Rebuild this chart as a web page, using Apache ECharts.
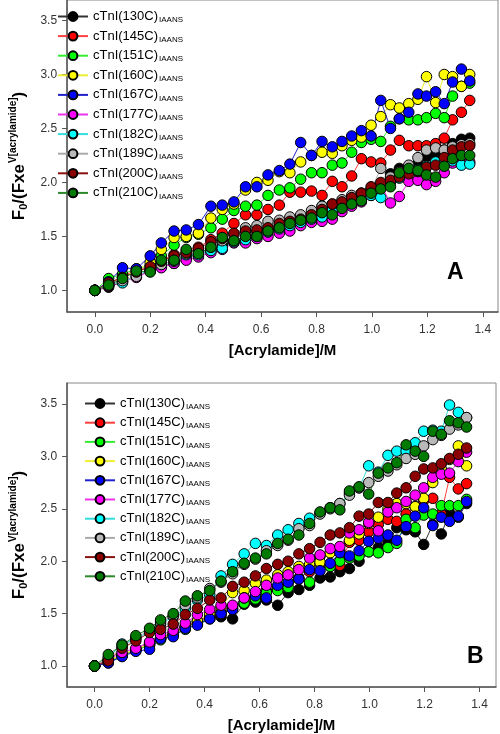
<!DOCTYPE html>
<html>
<head>
<meta charset="utf-8">
<script src="https://cdn.jsdelivr.net/npm/echarts@6/dist/echarts.min.js"></script>
<style>
  html, body { margin: 0; padding: 0; background: #fff; }
  #chart { width: 500px; height: 734px; }
</style>
</head>
<body>
<div id="chart"></div>
<script>
// ---- data ----
var xVals = [0, 0.05, 0.10, 0.15, 0.20, 0.24, 0.286, 0.33, 0.374, 0.419, 0.46, 0.502, 0.544, 0.585, 0.625, 0.666, 0.704, 0.743, 0.782, 0.82, 0.857, 0.892, 0.927, 0.962, 0.997, 1.032, 1.067, 1.099, 1.133, 1.166, 1.197, 1.23, 1.261, 1.291, 1.323, 1.353];
var seriesNames = ['cTnI(130C)', 'cTnI(145C)', 'cTnI(151C)', 'cTnI(160C)', 'cTnI(167C)', 'cTnI(177C)', 'cTnI(182C)', 'cTnI(189C)', 'cTnI(200C)', 'cTnI(210C)'];
var subscriptText = 'IAANS';
var xTicks = [0, 0.2, 0.4, 0.6, 0.8, 1.0, 1.2, 1.4];
var yTicks = [1.0, 1.5, 2.0, 2.5, 3.0, 3.5];

// Panel A
var aC130 = [1.00,1.03,1.08,1.13,1.18,1.22,1.25,1.30,1.34,1.37,1.42,1.46,1.50,1.54,1.57,1.61,1.63,1.66,1.70,1.78,1.75,1.82,1.86,1.90,1.94,1.97,2.08,2.13,2.15,2.18,2.24,2.27,2.30,2.36,2.40,2.41];
var aC145 = [1.00,1.05,1.14,1.18,1.22,1.28,1.33,1.37,1.40,1.47,1.53,1.62,1.70,1.70,1.75,1.79,1.91,1.91,1.92,1.88,2.01,1.96,2.06,2.22,2.19,2.18,2.30,2.39,2.34,2.34,2.34,2.36,2.41,2.58,2.65,2.76];
var aC151 = [1.00,1.11,1.15,1.20,1.23,1.32,1.42,1.49,1.52,1.58,1.66,1.74,1.78,1.79,1.88,1.93,1.95,2.03,2.09,2.09,2.16,2.18,2.28,2.37,2.40,2.38,2.52,2.59,2.58,2.58,2.60,2.64,2.60,2.80,2.89,2.92];
var aC160 = [1.00,1.07,1.12,1.18,1.26,1.38,1.49,1.50,1.53,1.67,1.75,1.80,1.93,2.00,2.02,2.10,2.09,2.19,2.25,2.28,2.27,2.34,2.39,2.42,2.53,2.61,2.72,2.69,2.73,2.77,2.98,2.74,3.00,2.98,2.89,3.00];
var aC167 = [1.00,1.08,1.21,1.20,1.32,1.44,1.55,1.56,1.61,1.78,1.79,1.82,1.96,1.96,2.07,2.11,2.17,2.37,2.25,2.38,2.33,2.38,2.43,2.48,2.43,2.76,2.50,2.59,2.65,2.82,2.80,2.84,2.73,2.93,3.05,2.94];
var aC177 = [1.00,1.04,1.08,1.12,1.18,1.21,1.25,1.28,1.31,1.35,1.38,1.44,1.44,1.48,1.50,1.53,1.55,1.60,1.63,1.64,1.66,1.73,1.78,1.82,1.88,1.98,1.81,1.87,2.01,2.02,1.98,2.01,2.09,2.18,2.22,2.19];
var aC182 = [1.00,1.06,1.07,1.14,1.19,1.24,1.27,1.33,1.33,1.37,1.39,1.45,1.47,1.50,1.54,1.57,1.60,1.63,1.66,1.68,1.74,1.78,1.83,1.86,1.88,1.86,2.00,2.04,2.10,2.12,2.15,2.19,2.18,2.20,2.16,2.17];
var aC189 = [1.00,1.05,1.09,1.13,1.19,1.24,1.28,1.34,1.37,1.40,1.46,1.52,1.58,1.60,1.64,1.65,1.68,1.70,1.74,1.78,1.80,1.84,1.88,1.90,1.93,2.13,2.05,2.10,2.16,2.23,2.30,2.32,2.30,2.33,2.35,2.36];
var aC200 = [1.00,1.07,1.12,1.17,1.22,1.27,1.32,1.35,1.39,1.45,1.48,1.53,1.55,1.56,1.58,1.62,1.64,1.66,1.70,1.75,1.80,1.82,1.86,1.90,1.96,2.00,2.02,2.05,2.08,2.10,2.14,2.16,2.23,2.30,2.33,2.34];
var aC210 = [1.00,1.05,1.11,1.18,1.17,1.28,1.28,1.38,1.34,1.40,1.49,1.46,1.50,1.50,1.55,1.58,1.62,1.65,1.67,1.72,1.70,1.76,1.80,1.83,1.90,1.94,1.96,2.09,2.13,2.11,2.07,2.05,2.15,2.22,2.25,2.25];

// Panel B
var bC130 = [1.00,1.03,1.10,1.15,1.20,1.26,1.30,1.37,1.42,1.46,1.47,1.45,1.59,1.61,1.63,1.58,1.70,1.73,1.77,1.84,1.85,1.90,1.93,2.00,2.09,2.13,2.17,2.32,2.30,2.28,2.16,2.35,2.26,2.46,2.42,2.55];
var bC145 = [1.00,1.05,1.10,1.16,1.22,1.26,1.32,1.38,1.43,1.48,1.52,1.57,1.61,1.66,1.72,1.74,1.79,1.84,1.90,1.98,1.95,1.96,2.18,2.20,2.28,2.35,2.40,2.38,2.45,2.52,2.58,2.60,2.45,2.80,2.69,2.74];
var bC151 = [1.00,1.05,1.10,1.15,1.20,1.25,1.30,1.35,1.40,1.45,1.50,1.55,1.60,1.64,1.70,1.72,1.75,1.83,1.80,2.05,1.95,2.00,2.03,2.05,2.09,2.08,2.13,2.17,2.40,2.32,2.44,2.45,2.53,2.53,2.53,2.59];
var bC160 = [1.00,1.05,1.11,1.16,1.21,1.27,1.30,1.37,1.43,1.50,1.56,1.70,1.72,1.79,1.82,1.87,1.90,1.95,1.97,1.99,2.08,2.10,2.20,2.26,2.36,2.42,2.50,2.55,2.55,2.52,2.60,2.75,2.88,2.97,3.10,2.91];
var bC167 = [1.00,1.03,1.09,1.14,1.16,1.26,1.28,1.36,1.39,1.45,1.50,1.54,1.65,1.67,1.65,1.77,1.80,1.83,1.92,1.91,1.98,2.08,2.05,2.10,2.19,2.22,2.25,2.20,2.33,2.43,2.51,2.34,2.42,2.38,2.43,2.57];
var bC177 = [1.00,1.06,1.13,1.17,1.23,1.30,1.34,1.41,1.49,1.54,1.58,1.58,1.65,1.71,1.77,1.84,1.87,1.92,2.03,2.06,2.12,2.14,2.27,2.30,2.37,2.29,2.47,2.51,2.57,2.63,2.70,2.80,2.83,2.84,2.95,3.04];
var bC182 = [1.00,1.08,1.21,1.26,1.33,1.40,1.47,1.55,1.63,1.68,1.86,1.97,2.07,2.17,2.15,2.25,2.30,2.36,2.41,2.46,2.51,2.55,2.65,2.70,2.91,2.85,3.01,3.05,3.05,3.13,3.24,3.25,3.24,3.49,3.42,3.37];
var bC189 = [1.00,1.08,1.18,1.27,1.34,1.42,1.48,1.58,1.65,1.74,1.80,1.88,1.97,2.02,2.10,2.15,2.20,2.31,2.34,2.45,2.50,2.55,2.63,2.70,2.75,2.81,2.86,2.92,2.98,3.02,3.10,3.16,3.20,3.26,3.30,3.37];
var bC200 = [1.00,1.05,1.17,1.24,1.32,1.35,1.40,1.49,1.55,1.63,1.65,1.76,1.80,1.86,1.93,1.97,2.00,2.07,2.12,2.18,2.25,2.27,2.32,2.43,2.45,2.56,2.56,2.65,2.70,2.81,2.88,2.89,2.93,2.98,3.02,3.08];
var bC210 = [1.00,1.11,1.20,1.29,1.36,1.44,1.50,1.62,1.67,1.72,1.81,1.90,1.98,2.03,2.07,2.17,2.21,2.25,2.36,2.47,2.51,2.49,2.67,2.71,2.64,2.84,2.89,2.94,3.11,3.05,3.00,3.24,3.21,3.34,3.32,3.28];

var panelA = [aC130, aC145, aC151, aC160, aC167, aC177, aC182, aC189, aC200, aC210];
var panelB = [bC130, bC145, bC151, bC160, bC167, bC177, bC182, bC189, bC200, bC210];

// ---- styles ----
var colors = ['#000000', '#ff0000', '#00ff00', '#ffff00', '#0000ff', '#ff00ff', '#00ffff', '#b9b9b9', '#8b0000', '#007a00'];
var lineColors = ['#333333', '#ff4040', '#33ee33', '#eeee33', '#2020cc', '#ee33ee', '#33dddd', '#aaaaaa', '#8b1010', '#2a8a2a'];
var FONT = '"Liberation Sans", Arial, sans-serif';

function xAxisCfg(gi, max) {
  return {
    type: 'value', gridIndex: gi, min: -0.1, max: max,
    name: '[Acrylamide]/M', nameLocation: 'middle', nameGap: 31,
    nameTextStyle: { fontSize: 15, fontWeight: 'bold', color: '#000', fontFamily: FONT },
    axisLine: { show: true, onZero: false, lineStyle: { color: '#555', width: 1.5 } },
    axisTick: { show: true, inside: false, length: 5, customValues: xTicks, lineStyle: { color: '#555' } },
    axisLabel: { customValues: xTicks, margin: 12, fontSize: 12, color: '#333', fontFamily: FONT,
      formatter: function (v) { return v.toFixed(1); } },
    splitLine: { show: false }
  };
}
function yAxisCfg(gi, max) {
  return {
    type: 'value', gridIndex: gi, min: 0.8, max: max,
    name: '{m|F}{sb|0}{m|/(Fxe}{sp|V[acrylamide]}{m|)}',
    nameLocation: 'middle', nameGap: 30, nameRotate: 90,
    nameTextStyle: {
      color: '#000', fontFamily: FONT, fontSize: 17, fontWeight: 'bold',
      rich: {
        m: { fontSize: 17, fontWeight: 'bold', color: '#000', fontFamily: FONT },
        sb: { fontSize: 11, fontWeight: 'bold', color: '#000', fontFamily: FONT, padding: [9, 0, 0, 0] },
        sp: { fontSize: 10, fontWeight: 'bold', color: '#000', fontFamily: FONT, padding: [0, 0, 13, 1] }
      }
    },
    axisLine: { show: true, onZero: false, lineStyle: { color: '#555', width: 1.5 } },
    axisTick: { show: true, inside: false, length: 5, customValues: yTicks, lineStyle: { color: '#555' } },
    axisLabel: { customValues: yTicks, margin: 10, fontSize: 12, color: '#333', fontFamily: FONT,
      formatter: function (v) { return v.toFixed(1); } },
    splitLine: { show: false }
  };
}

function makeSeries(panel, gi) {
  return panel.map(function (vals, k) {
    return {
      name: seriesNames[k], type: 'line', xAxisIndex: gi, yAxisIndex: gi,
      data: xVals.map(function (x, i) { return [x, vals[i]]; }),
      symbol: 'circle', symbolSize: 10.5,
      itemStyle: { color: colors[k], borderColor: '#000', borderWidth: 1 },
      lineStyle: { color: lineColors[k], width: 1 },
      emphasis: { disabled: true },
      animation: false
    };
  });
}

function legendCfg(left, top, gap) {
  return {
    data: seriesNames, orient: 'vertical', left: left, top: top,
    itemWidth: 30, itemHeight: 11, itemGap: gap, padding: 0,
    selectedMode: false,
    textStyle: {
      fontSize: 13, color: '#000', fontFamily: FONT,
      rich: {
        n: { fontSize: 13, color: '#000', fontFamily: FONT },
        s: { fontSize: 8, color: '#000', fontFamily: FONT, padding: [7, 0, 0, 1] }
      }
    },
    formatter: function (name) { return '{n|' + name + '}{s|' + subscriptText + '}'; }
  };
}

var chart = echarts.init(document.getElementById('chart'), null, { renderer: 'canvas' });
chart.setOption({
  animation: false,
  backgroundColor: '#fff',
  textStyle: { fontFamily: FONT },
  grid: [
    { left: 53, top: 0, right: 2, bottom: 422, show: true, borderColor: '#888', borderWidth: 1 },
    { left: 60, top: 383, right: 4, bottom: 46, show: true, borderColor: '#888', borderWidth: 1 }
  ],
  xAxis: [xAxisCfg(0, 1.455), xAxisCfg(1, 1.46)],
  yAxis: [yAxisCfg(0, 3.69), yAxisCfg(1, 3.7)],
  legend: [legendCfg(57, 10, 5.6), legendCfg(84, 397, 5.2)],
  series: makeSeries(panelA, 0).concat(makeSeries(panelB, 1)),
  graphic: [
    { type: 'text', left: 447, top: 261, style: { text: 'A', fontSize: 23, fontWeight: 'bold', fill: '#000', fontFamily: FONT } },
    { type: 'text', left: 467, top: 645, style: { text: 'B', fontSize: 23, fontWeight: 'bold', fill: '#000', fontFamily: FONT } }
  ]
});
</script>
</body>
</html>
